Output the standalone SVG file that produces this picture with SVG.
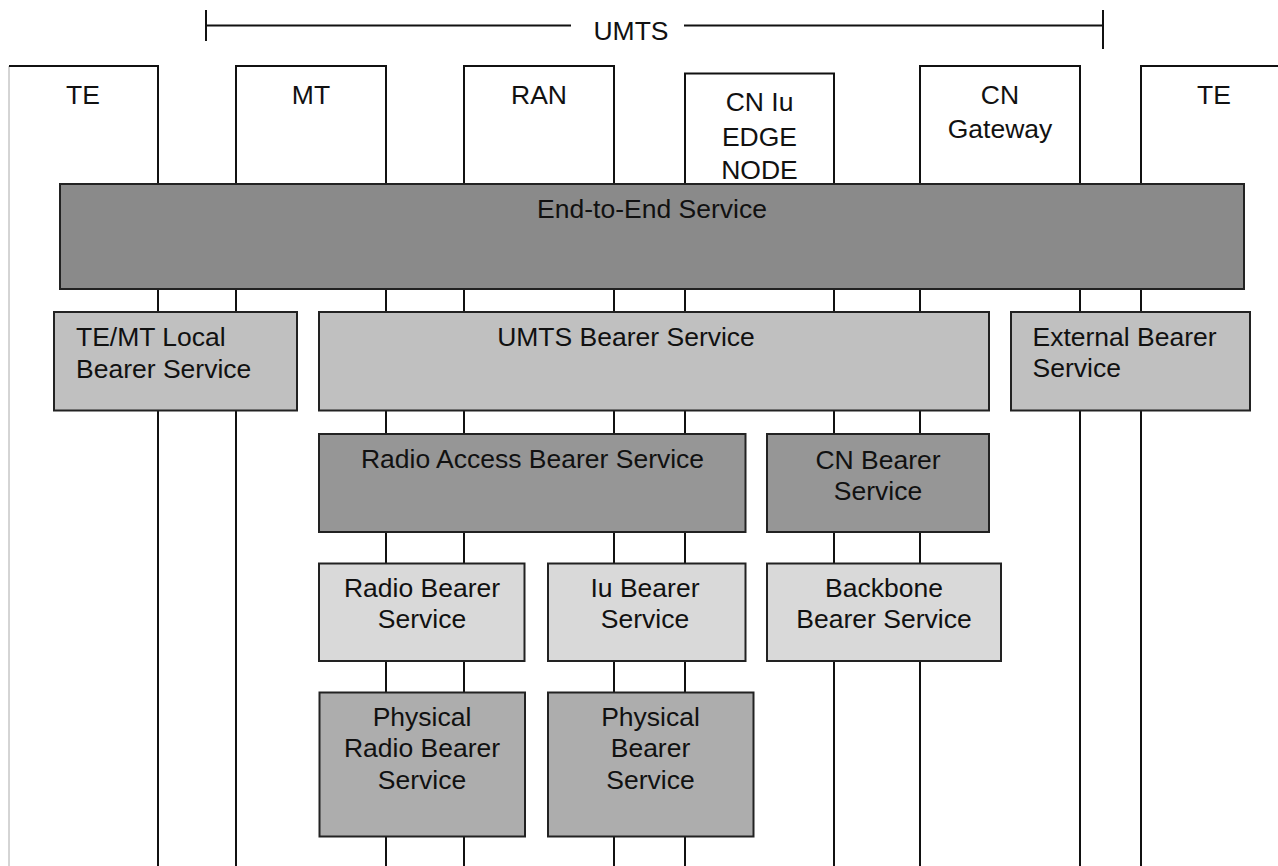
<svg xmlns="http://www.w3.org/2000/svg" width="1278" height="866" viewBox="0 0 1278 866">
<style>
text{font-family:"Liberation Sans",Arial,sans-serif;font-size:26.5px;fill:#111}
.c{text-anchor:middle}
.col{fill:#fff;stroke:#111;stroke-width:2}
.life{stroke:#111;stroke-width:2;fill:none}
.box{stroke:#222;stroke-width:2}
.e2e{fill:#8a8a8a}
.l1{fill:#c0c0c0}
.l2{fill:#969696}
.l3{fill:#d9d9d9}
.l4{fill:#adadad}
</style>
<rect width="1278" height="866" fill="#fff"/>
<g id="umts-span">
<path d="M206,10V41M206,25.5H571M684,25.5H1103M1103,10V49" class="life"/>
<text class="c" x="631" y="40">UMTS</text>
</g>
<g id="connectors">
<line class="life" x1="158" y1="184" x2="158" y2="866"/>
<line class="life" x1="236" y1="184" x2="236" y2="866"/>
<line class="life" x1="386" y1="184" x2="386" y2="866"/>
<line class="life" x1="464" y1="184" x2="464" y2="866"/>
<line class="life" x1="614" y1="184" x2="614" y2="866"/>
<line class="life" x1="685" y1="184" x2="685" y2="866"/>
<line class="life" x1="834" y1="184" x2="834" y2="866"/>
<line class="life" x1="920" y1="184" x2="920" y2="866"/>
<line class="life" x1="1080" y1="184" x2="1080" y2="866"/>
<line class="life" x1="1141" y1="184" x2="1141" y2="866"/>
</g>
<g id="te-left">
<line x1="9" y1="66" x2="9" y2="866" stroke="#aaa" stroke-width="1"/>
<path d="M9,66H158V186" class="life"/>
<text class="c" x="83" y="104">TE</text>
</g>
<g id="mt">
<rect class="col" x="236" y="66" width="150" height="120"/>
<text class="c" x="311" y="104">MT</text>
</g>
<g id="ran">
<rect class="col" x="464" y="66" width="150" height="120"/>
<text class="c" x="539" y="104">RAN</text>
</g>
<g id="cn-iu-edge-node">
<rect class="col" x="685" y="73.5" width="149" height="112"/>
<text class="c" x="759.5" y="111">CN Iu</text>
<text class="c" x="759.5" y="145.5">EDGE</text>
<text class="c" x="759.5" y="179">NODE</text>
</g>
<g id="cn-gateway">
<rect class="col" x="920" y="66" width="160" height="120"/>
<text class="c" x="1000" y="103.5">CN</text>
<text class="c" x="1000" y="137.5">Gateway</text>
</g>
<g id="te-right">
<path d="M1141,186V66H1280" class="life"/>
<text class="c" x="1214" y="104">TE</text>
</g>
<g id="end-to-end">
<rect class="box e2e" x="60" y="184" width="1184" height="105"/>
<text class="c" x="652" y="218">End-to-End Service</text>
</g>
<g id="te-mt-local">
<rect class="box l1" x="54" y="312" width="243" height="98.5"/>
<text x="76" y="346">TE/MT Local</text>
<text x="76" y="377.5">Bearer Service</text>
</g>
<g id="umts-bearer">
<rect class="box l1" x="319" y="312" width="670" height="98.5"/>
<text class="c" x="626" y="346">UMTS Bearer Service</text>
</g>
<g id="external-bearer">
<rect class="box l1" x="1011" y="312" width="239" height="98.5"/>
<text x="1032.5" y="345.5">External Bearer</text>
<text x="1032.5" y="376.5">Service</text>
</g>
<g id="radio-access-bearer">
<rect class="box l2" x="319" y="434" width="426.5" height="98"/>
<text class="c" x="532.5" y="468">Radio Access Bearer Service</text>
</g>
<g id="cn-bearer">
<rect class="box l2" x="767" y="434" width="222" height="98"/>
<text class="c" x="878" y="469">CN Bearer</text>
<text class="c" x="878" y="499.5">Service</text>
</g>
<g id="radio-bearer">
<rect class="box l3" x="319" y="563.5" width="205.5" height="97.5"/>
<text class="c" x="422" y="596.5">Radio Bearer</text>
<text class="c" x="422" y="628">Service</text>
</g>
<g id="iu-bearer">
<rect class="box l3" x="548" y="563.5" width="197.5" height="97.5"/>
<text class="c" x="645" y="596.5">Iu Bearer</text>
<text class="c" x="645" y="628">Service</text>
</g>
<g id="backbone-bearer">
<rect class="box l3" x="767" y="563.5" width="234" height="97.5"/>
<text class="c" x="884" y="596.5">Backbone</text>
<text class="c" x="884" y="628">Bearer Service</text>
</g>
<g id="physical-radio-bearer">
<rect class="box l4" x="319.5" y="692.5" width="205.5" height="144"/>
<text class="c" x="422" y="725.5">Physical</text>
<text class="c" x="422" y="757">Radio Bearer</text>
<text class="c" x="422" y="788.5">Service</text>
</g>
<g id="physical-bearer">
<rect class="box l4" x="548" y="692.5" width="205.5" height="144"/>
<text class="c" x="650.5" y="725.5">Physical</text>
<text class="c" x="650.5" y="757">Bearer</text>
<text class="c" x="650.5" y="788.5">Service</text>
</g>
</svg>
